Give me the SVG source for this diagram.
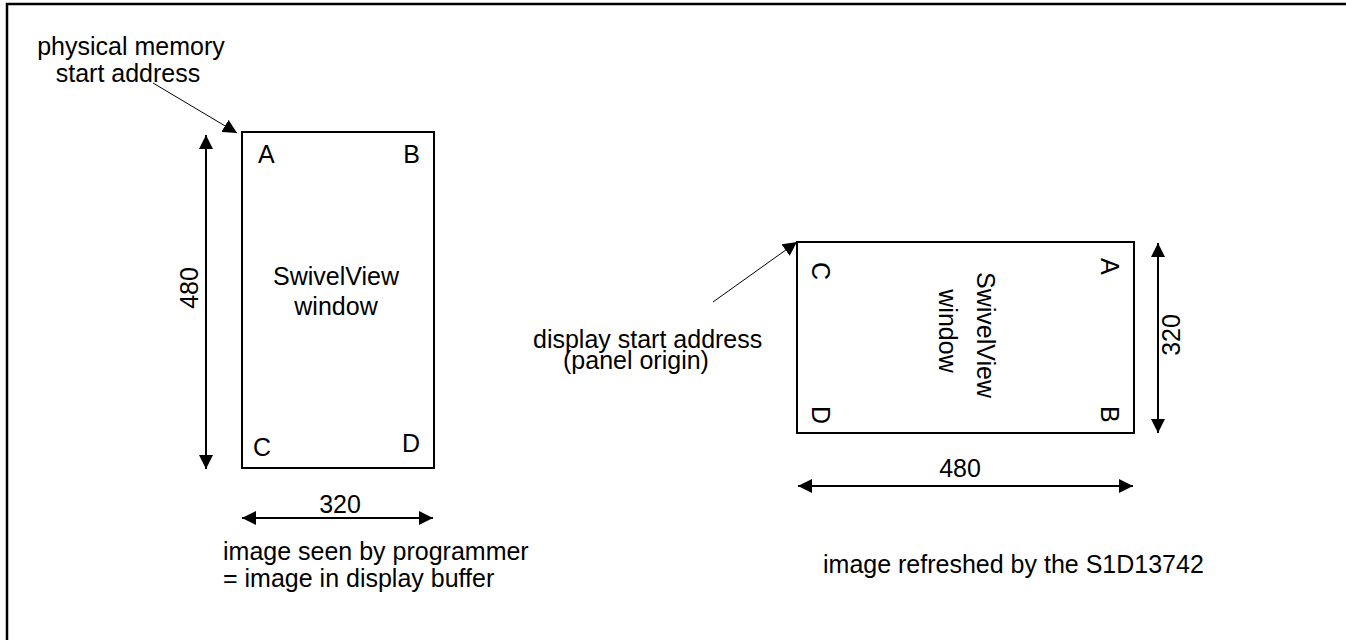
<svg xmlns="http://www.w3.org/2000/svg" width="1346" height="640" viewBox="0 0 1346 640">
<defs>
<style>
text{font-family:"Liberation Sans",Arial,sans-serif;font-size:25px;fill:#000}
.box{fill:none;stroke:#000;stroke-width:2}
.dim{fill:none;stroke:#000;stroke-width:2}
.lead{fill:none;stroke:#000;stroke-width:1}
</style>
<marker id="ah" viewBox="0 0 14 14" refX="14" refY="7" markerWidth="14" markerHeight="14" markerUnits="userSpaceOnUse" orient="auto-start-reverse">
<path d="M0,0 L14,7 L0,14 Z" fill="#000"/>
</marker>
</defs>
<rect x="7" y="4" width="1400" height="700" fill="#fff" stroke="#000" stroke-width="2.5"/>
<g id="left-window">
<rect class="box" x="242" y="132" width="192" height="336"/>
<text x="258" y="163">A</text>
<text x="420" y="163" text-anchor="end">B</text>
<text x="253" y="456">C</text>
<text x="420" y="452" text-anchor="end">D</text>
<text x="336" y="285" text-anchor="middle">SwivelView</text>
<text x="336" y="315" text-anchor="middle">window</text>
</g>
<g id="right-window">
<rect class="box" x="797" y="242" width="337" height="191"/>
<text transform="translate(1101,258) rotate(90)">A</text>
<text transform="translate(1101,406) rotate(90)">B</text>
<text transform="translate(812,262) rotate(90)">C</text>
<text transform="translate(812,406) rotate(90)">D</text>
<text transform="translate(977,335) rotate(90)" text-anchor="middle">SwivelView</text>
<text transform="translate(939,331) rotate(90)" text-anchor="middle">window</text>
</g>
<g id="labels">
<text x="131" y="55" text-anchor="middle">physical memory</text>
<text x="128" y="82" text-anchor="middle">start address</text>
<text x="533" y="348">display start address</text>
<text x="563" y="369">(panel origin)</text>
<text x="223" y="560">image seen by programmer</text>
<text x="223" y="587">= image in display buffer</text>
<text x="823" y="573">image refreshed by the S1D13742</text>
<text transform="translate(198,288) rotate(-90)" text-anchor="middle">480</text>
<text x="340" y="513" text-anchor="middle">320</text>
<text transform="translate(1180,335) rotate(-90)" text-anchor="middle">320</text>
<text x="960" y="477" text-anchor="middle">480</text>
</g>
<g id="connectors">
<line class="lead" x1="153" y1="83" x2="237" y2="133" marker-end="url(#ah)"/>
<line class="lead" x1="713" y1="302" x2="797" y2="242" marker-end="url(#ah)"/>
<line class="dim" x1="206" y1="135" x2="206" y2="469" marker-start="url(#ah)" marker-end="url(#ah)"/>
<line class="dim" x1="242" y1="518" x2="433" y2="518" marker-start="url(#ah)" marker-end="url(#ah)"/>
<line class="dim" x1="1158" y1="243" x2="1158" y2="433" marker-start="url(#ah)" marker-end="url(#ah)"/>
<line class="dim" x1="798" y1="486" x2="1133" y2="486" marker-start="url(#ah)" marker-end="url(#ah)"/>
</g>
</svg>
